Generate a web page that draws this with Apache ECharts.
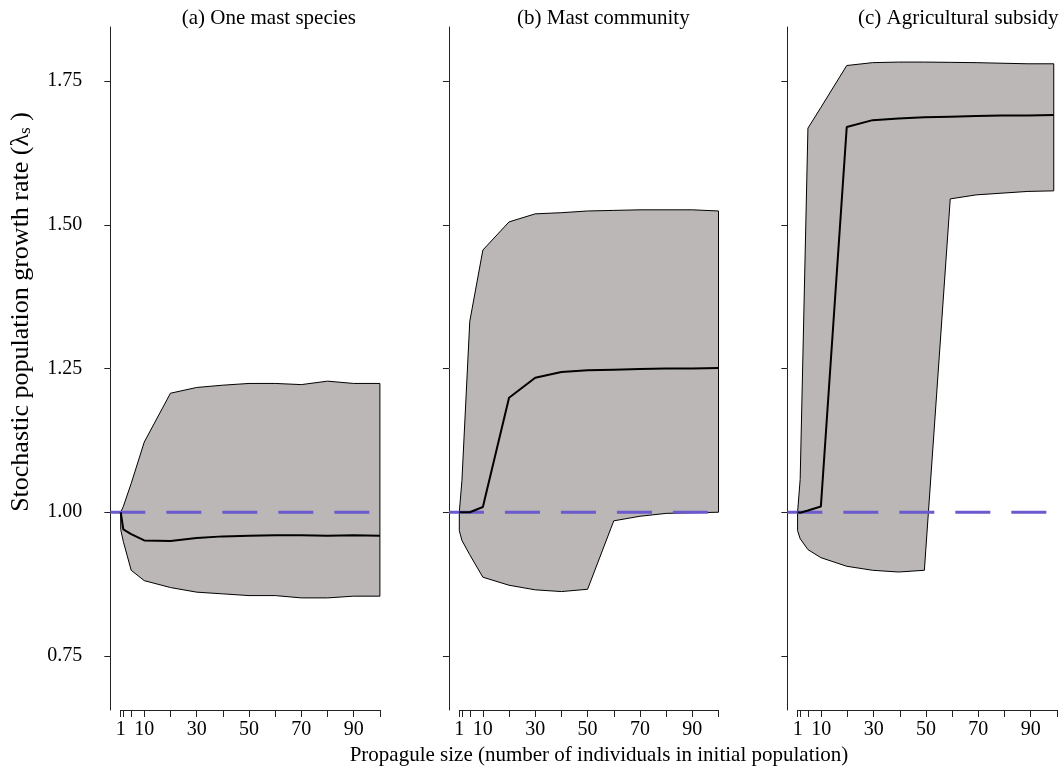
<!DOCTYPE html>
<html>
<head>
<meta charset="utf-8">
<script src="https://cdn.jsdelivr.net/npm/echarts@6/dist/echarts.min.js"></script>
<style>
html,body{margin:0;padding:0;background:#fff;}
#chart{width:1064px;height:767px;}
</style>
</head>
<body>
<div id="chart"></div>
<script>
// Propagule sizes
const xs = [1, 2, 5, 10, 20, 30, 40, 50, 60, 70, 80, 90, 100];

// (a) One mast species
const aMean  = [1.000, 0.970, 0.962, 0.951, 0.950, 0.955, 0.958, 0.959, 0.960, 0.960, 0.959, 0.960, 0.959];
const aUpper = [1.000, 1.010, 1.050, 1.122, 1.207, 1.217, 1.221, 1.224, 1.224, 1.222, 1.228, 1.224, 1.224];
const aLower = [0.970, 0.949, 0.899, 0.881, 0.869, 0.861, 0.858, 0.855, 0.855, 0.851, 0.851, 0.854, 0.854];

// (b) Mast community
const bMean  = [1.000, 1.000, 1.000, 1.009, 1.199, 1.234, 1.244, 1.247, 1.248, 1.249, 1.250, 1.250, 1.251];
const bUpper = [1.000, 1.055, 1.332, 1.456, 1.505, 1.519, 1.521, 1.524, 1.525, 1.526, 1.526, 1.526, 1.524];
const bLower = [0.968, 0.951, 0.926, 0.887, 0.873, 0.865, 0.862, 0.866, 0.985, 0.993, 0.998, 0.999, 1.000];

// (c) Agricultural subsidy
const cMean  = [1.000, 0.999, 1.003, 1.010, 1.670, 1.682, 1.685, 1.687, 1.688, 1.689, 1.690, 1.690, 1.691];
const cUpper = [1.000, 1.057, 1.668, 1.704, 1.777, 1.782, 1.783, 1.783, 1.7825, 1.782, 1.781, 1.780, 1.780];
const cLower = [0.968, 0.954, 0.935, 0.921, 0.906, 0.899, 0.896, 0.899, 1.545, 1.552, 1.555, 1.558, 1.559];

const titles = ['(a) One mast species', '(b) Mast community', '(c) Agricultural subsidy'];
const yTicks = [0.75, 1.00, 1.25, 1.50, 1.75];
const xTicks = [1, 2, 5, 10, 20, 30, 40, 50, 60, 70, 80, 90, 100];
const xLabels = [1, 10, 30, 50, 70, 90];
const refLine = [[-2.96, 1], [103.96, 1]];
const yLabelText = 'Stochastic population growth rate (λ';
const xLabelText = 'Propagule size (number of individuals in initial population)';

const panels = [
  {mean: aMean, upper: aUpper, lower: aLower},
  {mean: bMean, upper: bUpper, lower: bLower},
  {mean: cMean, upper: cUpper, lower: cLower}
];

const FONT = '"Liberation Serif", "DejaVu Serif", serif';
const gridLefts = [120.7, 459.3, 797.7];
const titleLefts = [181.7, 517, 858];
const W = 259.2;
const PAD = 3.96 * W / 99;
const TOP = 27, H = 683;
const YMIN = 0.656, YMAX = 1.844;

const grids = [], xAxes = [], yAxes = [], series = [], graphics = [];

panels.forEach((p, i) => {
  const gA = 2 * i, gB = 2 * i + 1;
  // data grid (full plot region)
  grids.push({left: gridLefts[i] - PAD, width: W + 2 * PAD, top: TOP, height: H});
  // axis grid (data range 1..100)
  grids.push({left: gridLefts[i], width: W, top: TOP, height: H});

  xAxes.push({
    type: 'value', gridIndex: gA, min: -2.96, max: 103.96, show: false
  });
  xAxes.push({
    type: 'value', gridIndex: gB, min: 1, max: 100,
    axisLine: {show: true, onZero: false, lineStyle: {color: '#222', width: 1}},
    axisTick: {show: true, length: 7, customValues: xTicks, lineStyle: {color: '#222'}},
    axisLabel: {show: true, customValues: xLabels, margin: 10, color: '#000',
                fontFamily: FONT, fontSize: 20},
    splitLine: {show: false}
  });
  yAxes.push({
    type: 'value', gridIndex: gA, min: YMIN, max: YMAX,
    axisLine: {show: true, onZero: false, lineStyle: {color: '#222', width: 1}},
    axisTick: {show: true, length: 6, customValues: yTicks, lineStyle: {color: '#222'}},
    axisLabel: {show: i === 0, customValues: yTicks, margin: 28, color: '#000',
                fontFamily: FONT, fontSize: 20,
                formatter: v => Number(v).toFixed(2)},
    splitLine: {show: false}
  });
  yAxes.push({
    type: 'value', gridIndex: gB, min: YMIN, max: YMAX, show: false
  });

  series.push({
    type: 'custom', xAxisIndex: gA, yAxisIndex: gA, data: [[1, 1]], z: 1, silent: true,
    renderItem: function (params, api) {
      const pts = [];
      for (let k = 0; k < xs.length; k++) pts.push(api.coord([xs[k], p.upper[k]]));
      for (let k = xs.length - 1; k >= 0; k--) pts.push(api.coord([xs[k], p.lower[k]]));
      return {type: 'polygon', shape: {points: pts},
              style: {fill: '#bbb7b6', stroke: '#000', lineWidth: 1}};
    }
  });
  series.push({
    type: 'line', xAxisIndex: gA, yAxisIndex: gA, data: refLine,
    symbol: 'none', z: 2, silent: true,
    lineStyle: {color: '#6a5acd', width: 3, type: [35, 21]}
  });
  series.push({
    type: 'line', xAxisIndex: gA, yAxisIndex: gA, data: xs.map((x, k) => [x, p.mean[k]]),
    symbol: 'none', z: 3, silent: true,
    lineStyle: {color: '#000', width: 2}
  });
  graphics.push({
    type: 'text', left: titleLefts[i], top: 8,
    style: {text: titles[i], font: '21px ' + FONT, fill: '#000'}
  });
});

graphics.push({
  type: 'text', x: 599, y: 755,
  style: {text: xLabelText, font: '21px ' + FONT, fill: '#000',
          align: 'center', verticalAlign: 'middle'}
});
graphics.push({
  type: 'text', x: 21, y: 312, rotation: Math.PI / 2,
  style: {
    text: '{m|' + yLabelText + '}{s|s}{m| )}',
    align: 'center', verticalAlign: 'middle',
    rich: {
      m: {font: '26px ' + FONT, fill: '#000'},
      s: {font: '17px ' + FONT, fill: '#000', padding: [10, 0, 0, 0]}
    }
  }
});

const chart = echarts.init(document.getElementById('chart'), null, {renderer: 'canvas'});
chart.setOption({
  animation: false,
  backgroundColor: '#fff',
  grid: grids, xAxis: xAxes, yAxis: yAxes, series: series, graphic: graphics
});
</script>
</body>
</html>
